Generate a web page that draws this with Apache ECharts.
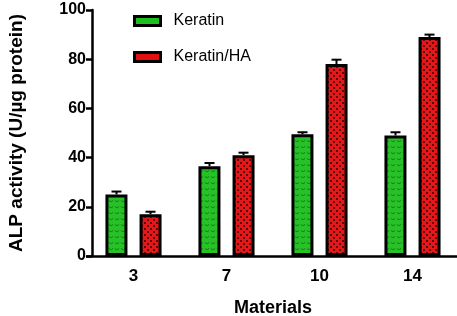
<!DOCTYPE html>
<html>
<head>
<meta charset="utf-8">
<script src="https://cdn.jsdelivr.net/npm/echarts@6/dist/echarts.min.js"></script>
<style>
  html, body { margin: 0; padding: 0; background: #fff; }
  #chart { width: 457px; height: 316px; }
</style>
</head>
<body>
<div id="chart"></div>
<script>
var categories = ['3', '7', '10', '14'];
var keratin = [25, 36.5, 49.5, 49];
var keratinErr = [1.2, 1.3, 0.8, 1.3];
var keratinHA = [17, 41, 78, 89];
var keratinHAErr = [1.0, 1.0, 1.8, 1.0];

// fill patterns for the bars
function makePattern(kind) {
  var c = document.createElement('canvas');
  c.width = 6; c.height = 6;
  var ctx = c.getContext('2d');
  if (kind === 'green') {
    ctx.fillStyle = '#27c227';
    ctx.fillRect(0, 0, 6, 6);
    ctx.strokeStyle = '#137a13';
    ctx.lineWidth = 1;
    ctx.beginPath();
    ctx.arc(3, 1, 2.5, 0.2 * Math.PI, 0.8 * Math.PI);
    ctx.stroke();
  } else {
    ctx.fillStyle = '#e41818';
    ctx.fillRect(0, 0, 6, 6);
    ctx.fillStyle = '#5a0a0a';
    ctx.fillRect(0, 0, 2, 2);
    ctx.fillRect(3, 3, 2, 2);
  }
  return c;
}

var greenFill = { image: makePattern('green'), repeat: 'repeat' };
var redFill = { image: makePattern('red'), repeat: 'repeat' };

function errSeries(vals, errs, shift) {
  return {
    type: 'custom',
    z: 5,
    silent: true,
    data: vals.map(function (v, i) { return [i, v, errs[i]]; }),
    renderItem: function (params, api) {
      var top = api.coord([api.value(0), api.value(1) + api.value(2)]);
      var base = api.coord([api.value(0), api.value(1)]);
      var x = top[0] + shift;
      return {
        type: 'group',
        children: [
          { type: 'line', shape: { x1: x, y1: base[1], x2: x, y2: top[1] },
            style: { stroke: '#000', lineWidth: 2 } },
          { type: 'line', shape: { x1: x - 5, y1: top[1], x2: x + 5, y2: top[1] },
            style: { stroke: '#000', lineWidth: 2 } }
        ]
      };
    }
  };
}

var chart = echarts.init(document.getElementById('chart'));
chart.setOption({
  animation: false,
  textStyle: { fontFamily: 'Liberation Sans, Arial, sans-serif' },
  legend: {
    orient: 'vertical',
    left: 128,
    top: 8,
    itemGap: 20,
    itemWidth: 26,
    itemHeight: 9,
    textStyle: { fontSize: 16, color: '#000', padding: [0, 0, 0, 8] },
    data: [
      { name: 'Keratin', icon: 'rect', itemStyle: { color: '#1cbf1c', borderColor: '#000', borderWidth: 3 } },
      { name: 'Keratin/HA', icon: 'rect', itemStyle: { color: '#e01010', borderColor: '#000', borderWidth: 3 } }
    ]
  },
  grid: { left: 87, right: -2, top: 10, bottom: 60, outerBoundsMode: 'none', containLabel: false },
  xAxis: {
    type: 'category',
    data: categories,
    name: 'Materials',
    nameLocation: 'middle',
    nameGap: 43,
    nameTextStyle: { fontSize: 18, fontWeight: 'bold', color: '#000' },
    axisLine: { lineStyle: { color: '#000', width: 2.5 } },
    axisTick: { alignWithLabel: true, length: 7, lineStyle: { color: '#000', width: 2.5 } },
    axisLabel: { fontSize: 17, fontWeight: 'bold', color: '#000', margin: 12 }
  },
  yAxis: {
    type: 'value',
    min: 0,
    max: 100,
    interval: 20,
    offset: -5,
    name: 'ALP activity (U/µg protein)',
    nameLocation: 'middle',
    nameGap: 66,
    nameTextStyle: { fontSize: 19, fontWeight: 'bold', color: '#000' },
    axisLine: { show: true, lineStyle: { color: '#000', width: 2.5 } },
    axisTick: { show: true, length: 6, lineStyle: { color: '#000', width: 2.5 } },
    axisLabel: { fontSize: 16, fontWeight: 'bold', color: '#000', margin: 6 },
    splitLine: { show: false }
  },
  series: [
    {
      name: 'Keratin',
      type: 'bar',
      data: keratin,
      barWidth: 22,
      barGap: '55%',
      itemStyle: { color: greenFill, borderColor: '#000', borderWidth: 3 }
    },
    {
      name: 'Keratin/HA',
      type: 'bar',
      data: keratinHA,
      barWidth: 22,
      itemStyle: { color: redFill, borderColor: '#000', borderWidth: 3 }
    },
    errSeries(keratin, keratinErr, -17),
    errSeries(keratinHA, keratinHAErr, 17)
  ]
});
</script>
</body>
</html>
